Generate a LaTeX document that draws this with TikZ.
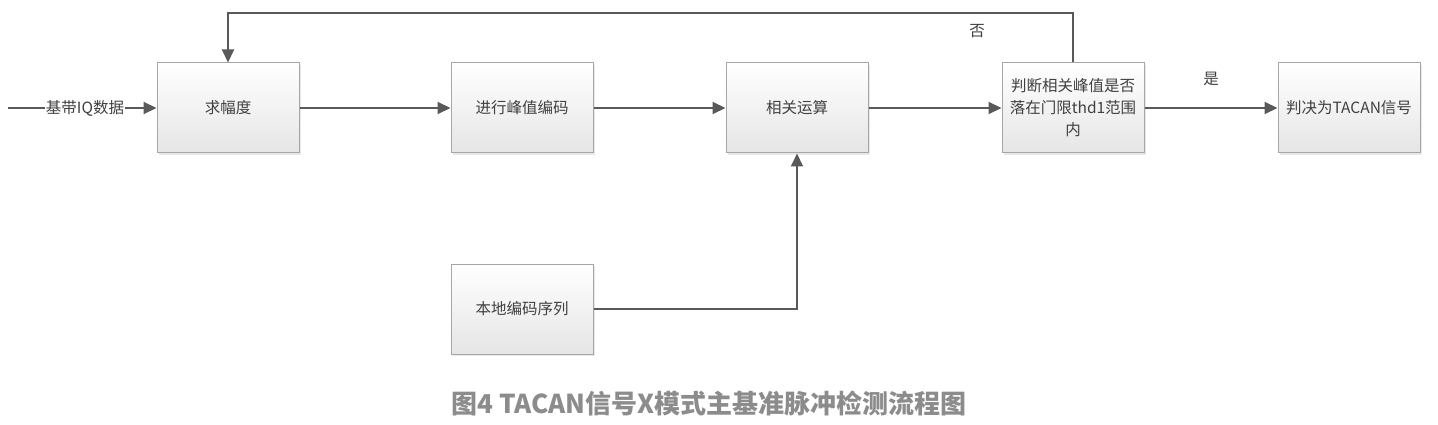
\documentclass[tikz,border=0pt]{standalone}
\usepackage{fontspec}
\setmainfont{Noto Sans CJK SC}
\usetikzlibrary{arrows.meta,shadows}
\definecolor{linec}{HTML}{595959}
\definecolor{boxb}{HTML}{A6A6A6}
\definecolor{txt}{HTML}{404040}
\definecolor{capc}{HTML}{8C8C8C}
\tikzset{
  blk/.style={draw=boxb, line width=1pt, top color=white, bottom color=black!10,
    minimum width=142pt, minimum height=90pt, inner sep=2pt, align=center,
    font=\fontsize{15.5}{22}\selectfont, text=txt,
    drop shadow={shadow xshift=2pt, shadow yshift=-2pt, fill=black!15, opacity=0.6}},
  conn/.style={draw=linec, line width=2pt},
  arr/.style={conn, -{Triangle[length=13pt,width=12pt]}},
  lbl/.style={font=\fontsize{15.5}{18}\selectfont, text=txt}
}
\begin{document}
\begin{tikzpicture}[x=1pt,y=-1pt]
\useasboundingbox (0,0) rectangle (1438,425);
\node[blk] (amp) at (228,108) {求幅度};
\node[blk] (enc) at (522,108) {进行峰值编码};
\node[blk] (cor) at (797,108) {相关运算};
\node[blk] (dec) at (1073,108) {判断相关峰值是否\\落在门限thd1范围\\内};
\node[blk] (res) at (1349,108) {判决为TACAN信号};
\node[blk] (loc) at (522,309) {本地编码序列};
\coordinate (in) at (8,108);
\node[lbl, fill=white, inner sep=1pt] (inl) at (85,108) {基带IQ数据};
\draw[conn] (in) -- (inl.west);
\draw[arr] (inl.east) -- (amp.west);
\draw[arr] (amp) -- (enc);
\draw[arr] (enc) -- (cor);
\draw[arr] (cor) -- (dec);
\draw[arr] (dec) -- node[lbl, above=18pt]{是} (res);
\draw[arr] (dec.north) -- (1073,13) -| (amp.north);
\node[lbl] (no) at (977,31) {否};
\draw[arr] (loc.east) -| (cor.south);
\node[font=\fontsize{26}{30}\selectfont\bfseries, text=capc] (cap) at (709,403) {图4 TACAN信号X模式主基准脉冲检测流程图};
\end{tikzpicture}
\end{document}
